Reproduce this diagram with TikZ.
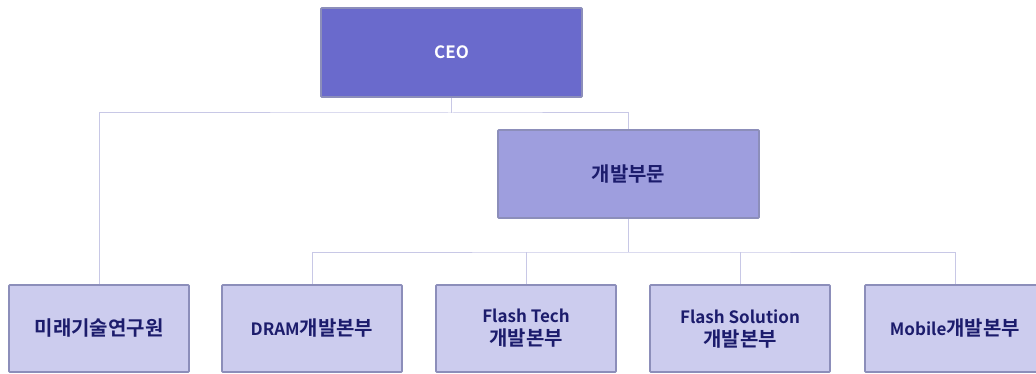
\documentclass[tikz,border=0pt]{standalone}
\usepackage{fontspec}
\setmainfont{Noto Sans CJK KR}[BoldFont={* Bold}]
\definecolor{ceofill}{HTML}{6A6ACC}
\definecolor{devfill}{HTML}{9E9EDE}
\definecolor{unitfill}{HTML}{CCCCEE}
\definecolor{boxline}{HTML}{8C8EBA}
\definecolor{wire}{HTML}{C8C8E6}
\definecolor{ink}{HTML}{1C1C6C}
\newcommand{\latinpart}{\fontsize{17}{22}\selectfont}
\begin{document}
\begin{tikzpicture}[x=1pt,y=-1pt,
  box/.style={draw=boxline, line width=1.6pt, rounded corners=0.8pt, rectangle, inner sep=0pt, align=center, font=\bfseries\fontsize{20}{23}\selectfont, text=ink},
  topbox/.style={box, fill=ceofill, text=white, minimum width=261pt, minimum height=89pt},
  devbox/.style={box, fill=devfill, minimum width=261pt, minimum height=88pt},
  unitbox/.style={box, fill=unitfill, minimum width=180pt, minimum height=87pt},
  wireline/.style={draw=wire, line width=1pt}]
\clip (0,0) rectangle (1036,374);
\useasboundingbox (0,0) rectangle (1036,374);
\coordinate (j1) at (451.5,113);
\coordinate (j2) at (628.5,252);
\draw[wireline] (99,285) |- (j1) -| (628.5,130);
\draw[wireline] (451.5,97) -- (j1);
\draw[wireline] (628.5,218) -- (j2);
\draw[wireline] (312,285) |- (j2) -| (955,285);
\draw[wireline] (526,285) -- (526,252);
\draw[wireline] (740,285) -- (740,252);
\node[topbox] (ceo) at (451.5,52.5) {\latinpart CEO};
\node[devbox] (dev) at (628.5,174) {개발부문};
\node[unitbox] (lab) at (99,328.5) {미래기술연구원};
\node[unitbox] (dram) at (312,328.5) {{\latinpart DRAM}개발본부};
\node[unitbox] (ft) at (526,328.5) {{\latinpart Flash Tech}\\개발본부};
\node[unitbox] (fs) at (740,328.5) {{\latinpart Flash Solution}\\개발본부};
\node[unitbox] (mob) at (955,328.5) {{\latinpart Mobile}개발본부};
\end{tikzpicture}
\end{document}
